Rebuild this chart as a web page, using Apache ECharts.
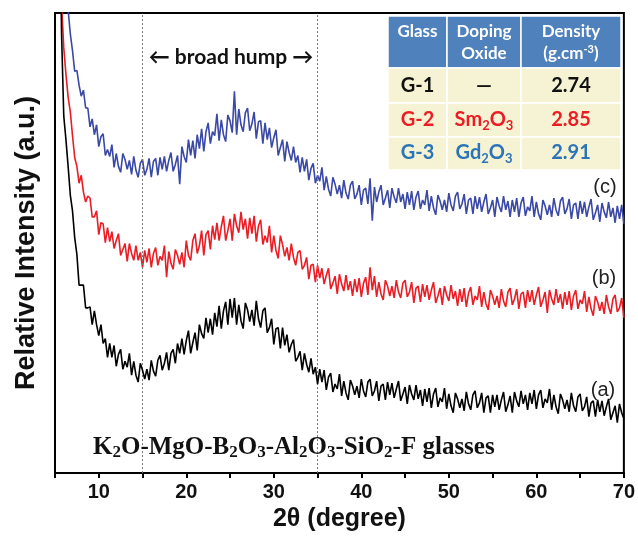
<!DOCTYPE html>
<html><head><meta charset="utf-8">
<script src="https://cdn.jsdelivr.net/npm/echarts@6/dist/echarts.min.js"></script>
<style>html,body{margin:0;padding:0;background:#fff}#c{width:638px;height:537px}</style>
</head><body><div id="c"></div>
<script>
// 2θ sampling grid: 5.5 .. 70 at 0.25 deg
const thetaStart = 5.5, thetaStep = 0.25;

// (a) G-1 black
const intensityA = [
600,444,361,337,310,281,265,238,
221,190,190,190,167,167,168,150,
164,150,139,150,131,136,117,131,
117,129,108,120,125,105,113,107,
121,99,113,99,92,111,104,95,
105,94,114,103,98,114,119,104,
111,122,104,121,125,111,131,121,
136,120,134,144,121,132,142,124,
150,141,136,157,142,156,140,162,
148,169,146,164,173,150,176,157,
177,150,170,154,146,172,165,153,
165,149,174,156,147,164,167,142,
147,156,130,146,147,126,147,129,
140,122,130,135,113,117,123,104,
121,110,102,116,100,107,90,105,
92,104,84,97,101,82,90,85,
100,78,93,81,74,94,88,79,
88,76,95,83,77,92,95,78,
83,93,73,88,90,74,92,79,
91,76,85,93,73,80,87,70,
89,80,74,89,75,84,68,85,
72,86,66,80,86,67,76,72,
86,65,80,68,61,81,75,66,
75,63,82,70,64,79,83,66,
71,81,61,76,78,61,79,67,
79,64,74,82,62,69,78,61,
82,73,67,83,70,79,64,81,
70,84,65,79,84,66,75,71,
85,64,79,67,60,80,74,65,
74,62,81,68,62,77,80,63,
67,77,57,71,73,57,74,62,
73,58,67,75,54,61,68,51,
70,61,55
];

// (b) G-2 red
const intensityB = [
645,474,430,403,380,365,341,319,
310,293,301,284,274,280,278,259,
259,265,241,253,252,233,248,234,
244,227,235,242,220,226,232,214,
232,222,215,230,215,223,208,225,
213,227,208,222,228,210,219,215,
230,198,224,212,206,226,220,211,
223,208,235,220,215,235,242,222,
230,245,220,241,245,226,250,236,
253,235,249,260,235,245,257,235,
262,250,243,264,246,257,237,258,
242,260,234,250,256,231,240,233,
250,223,240,225,217,240,231,219,
228,215,232,218,210,223,225,206,
210,218,196,210,211,193,210,197,
207,191,200,207,186,192,199,181,
201,191,184,200,185,194,179,196,
183,197,178,192,198,180,208,185,
199,178,193,181,175,195,189,179,
189,177,195,183,177,192,195,178,
183,193,172,187,189,173,191,178,
190,175,185,193,172,179,187,170,
189,180,174,190,176,184,169,186,
173,187,168,182,188,170,179,175,
189,168,183,171,165,185,179,170,
179,167,186,174,168,183,187,170,
176,186,166,181,183,167,185,173,
185,170,180,188,168,175,183,162,
185,176,170,186,172,181,166,183,
170,184,165,179,185,166,175,171,
184,163,178,166,159,179,173,164,
173,161,180,168,161,176,180,163,
167,177,157
];

// (c) G-3 blue
const intensityC = [
703,617,561,514,468,444,427,406,
407,392,381,387,369,369,350,358,
342,352,330,340,343,321,327,320,
332,309,323,310,304,323,317,307,
316,302,320,306,299,313,317,301,
307,318,299,315,318,301,319,307,
320,305,316,324,305,312,321,292,
330,320,314,337,321,336,318,342,
328,348,325,345,354,333,345,341,
363,336,357,342,335,362,356,344,
386,342,368,352,345,364,369,346,
353,365,338,355,356,333,354,337,
349,329,339,347,321,329,337,315,
335,324,316,330,314,321,304,319,
305,317,296,308,313,293,301,295,
309,286,300,287,280,299,292,282,
291,278,296,283,277,291,295,277,
282,291,271,286,288,272,298,255,
289,274,284,291,271,278,286,268,
288,279,273,288,274,282,267,284,
271,285,266,279,285,267,276,271,
286,265,280,268,261,281,275,266,
276,264,283,271,265,280,284,267,
272,282,262,276,278,262,280,267,
279,264,274,282,262,268,276,259,
279,270,264,280,266,275,259,276,
264,278,259,273,279,260,269,265,
280,259,274,262,256,276,270,261,
271,259,278,266,260,275,279,262,
267,277,257,271,273,257,275,262,
274,259,269,277,256,263,271,254,
273,264,258,274,259,268,253,270,
257,271,252
];

const seriesNames = ['(a)', '(b)', '(c)'];
const seriesColors = ['#000000', '#ec1c24', '#3a48a6'];
const humpBounds = [15, 35];

// inset table
const tableHeader = [['Glass'], ['Doping', 'Oxide'], ['Density', '(g.cm{sp|-3}{h|)}']];
const tableGlass = ['G-1', 'G-2', 'G-3'];
const tableOxide = ['—', '{m|Sm}{s|2}{m|O}{s|3}', '{m|Gd}{s|2}{m|O}{s|3}'];
const tableDensity = ['2.74', '2.85', '2.91'];
const tableColors = ['#111111', '#ec1c24', '#2c74b8'];

function toPairs(arr) { return arr.map((v, i) => [thetaStart + i * thetaStep, v]); }

const chart = echarts.init(document.getElementById('c'), null, { renderer: 'canvas' });

const colX = [388, 447, 521, 621];
const rowY = [16, 68, 103, 137, 170];
const graphics = [];
for (let c = 0; c < 3; c++) {
  graphics.push({ type: 'rect', shape: { x: colX[c], y: rowY[0], width: colX[c+1]-colX[c], height: rowY[1]-rowY[0] },
    style: { fill: '#4f81bd', stroke: '#ffffff', lineWidth: 1.5 }, z: 10 });
  for (let r = 1; r < 4; r++) {
    graphics.push({ type: 'rect', shape: { x: colX[c], y: rowY[r], width: colX[c+1]-colX[c], height: rowY[r+1]-rowY[r] },
      style: { fill: '#f6f3d4', stroke: '#ffffff', lineWidth: 1.5 }, z: 10 });
  }
}
const colC = [417.5, 484, 571];
const hFont = 'Lato, "Open Sans", sans-serif';
function txt(x, y, text, fill, size, rich) {
  return { type: 'text', x: x, y: y, z: 11,
    style: { text: text, fill: fill, font: 'bold ' + size + 'px ' + hFont,
      textAlign: 'center', textVerticalAlign: 'middle', align: 'center', verticalAlign: 'middle', rich: rich } };
}
const headRich = {
  h: { fill: '#fff', font: 'bold 17px ' + hFont, lineHeight: 20 },
  sp: { fill: '#fff', font: 'bold 11px ' + hFont, lineHeight: 11, verticalAlign: 'top' }
};
graphics.push(txt(colC[0], 32, tableHeader[0][0], '#fff', 17));
graphics.push(txt(colC[1], 32, tableHeader[1][0], '#fff', 17));
graphics.push(txt(colC[1], 54, tableHeader[1][1], '#fff', 17));
graphics.push(txt(colC[2], 32, tableHeader[2][0], '#fff', 17));
graphics.push(txt(colC[2], 54, '{h|' + tableHeader[2][1].replace('(g.cm{', '(g.cm}{'), '#fff', 17, headRich));
const bodyY = [86, 120, 153];
for (let r = 0; r < 3; r++) {
  const col = tableColors[r];
  graphics.push(txt(colC[0], bodyY[r], tableGlass[r], col, 20));
  const rich = {
    m: { fill: col, font: 'bold 20px ' + hFont, lineHeight: 24 },
    s: { fill: col, font: 'bold 13px ' + hFont, lineHeight: 10, verticalAlign: 'bottom' }
  };
  graphics.push(txt(colC[1], bodyY[r], tableOxide[r], col, 20, r > 0 ? rich : undefined));
  graphics.push(txt(colC[2], bodyY[r], tableDensity[r], col, 20));
}
graphics.push({ type: 'text', x: 231, y: 57, z: 11,
  style: { text: '← broad hump →', fill: '#111', font: 'bold 21px ' + hFont,
    textAlign: 'center', textVerticalAlign: 'middle', align: 'center', verticalAlign: 'middle' } });
const labPos = [[603, 390], [604, 278], [605, 187]];
for (let i = 0; i < 3; i++) {
  graphics.push({ type: 'text', x: labPos[i][0], y: labPos[i][1], z: 11,
    style: { text: seriesNames[i], fill: '#222', font: '20px "Liberation Sans", Arial, sans-serif',
      textAlign: 'center', textVerticalAlign: 'middle', align: 'center', verticalAlign: 'middle' } });
}
const serif = '"Liberation Serif", "Times New Roman", serif';
graphics.push({ type: 'text', x: 93, y: 448, z: 11,
  style: { text: '{t|K}{s|2}{t|O-MgO-B}{s|2}{t|O}{s|3}{t|-Al}{s|2}{t|O}{s|3}{t|-SiO}{s|2}{t|-F glasses}',
    fill: '#111', font: 'bold 25px ' + serif,
    textAlign: 'left', textVerticalAlign: 'middle', align: 'left', verticalAlign: 'middle',
    rich: {
      t: { fill: '#111', font: 'bold 25px ' + serif, lineHeight: 26 },
      s: { fill: '#111', font: 'bold 17px ' + serif, lineHeight: 13, verticalAlign: 'bottom' }
    } } });

const allData = [intensityA, intensityB, intensityC];
const series = [2, 1, 0].map(k => ({
  name: seriesNames[k], type: 'line', data: toPairs(allData[k]),
  showSymbol: false, symbol: 'none', clip: true, animation: false,
  lineStyle: { color: seriesColors[k], width: 1.6 }, itemStyle: { color: seriesColors[k] },
  z: 3 + (2 - k)
}));
series[0].markLine = {
  symbol: 'none', silent: true, animation: false,
  label: { show: false },
  lineStyle: { color: '#777', width: 1, type: [2, 2] },
  data: humpBounds.map(v => ({ xAxis: v }))
};

chart.setOption({
  animation: false,
  backgroundColor: '#ffffff',
  grid: { left: 55, right: 12, top: 13, bottom: 59, show: true, borderColor: '#000', borderWidth: 2, containLabel: false },
  xAxis: {
    type: 'value', min: 5, max: 70, interval: 5,
    name: '2θ (degree)', nameLocation: 'middle', nameGap: 31,
    nameTextStyle: { color: '#111', fontSize: 25, fontWeight: 'bold', fontFamily: '"Liberation Sans", Arial, sans-serif' },
    axisLine: { show: true, lineStyle: { color: '#000', width: 2 } },
    axisTick: { show: true, length: 5, lineStyle: { color: '#000', width: 2 } },
    axisLabel: { color: '#111', fontSize: 20, fontWeight: 'bold', fontFamily: '"Liberation Sans", Arial, sans-serif', margin: 9,
      formatter: v => (v % 10 === 0 ? String(v) : ''), showMinLabel: true, showMaxLabel: true },
    splitLine: { show: false }
  },
  yAxis: {
    type: 'value', min: 0, max: 465,
    name: 'Relative Intensity (a.u.)', nameLocation: 'middle', nameGap: 15,
    nameTextStyle: { color: '#111', fontSize: 27, fontWeight: 'bold', fontFamily: '"Liberation Sans", Arial, sans-serif' },
    axisLine: { show: true, lineStyle: { color: '#000', width: 2 } },
    axisTick: { show: false }, axisLabel: { show: false }, splitLine: { show: false }
  },
  series: series,
  graphic: graphics
});
</script></body></html>
